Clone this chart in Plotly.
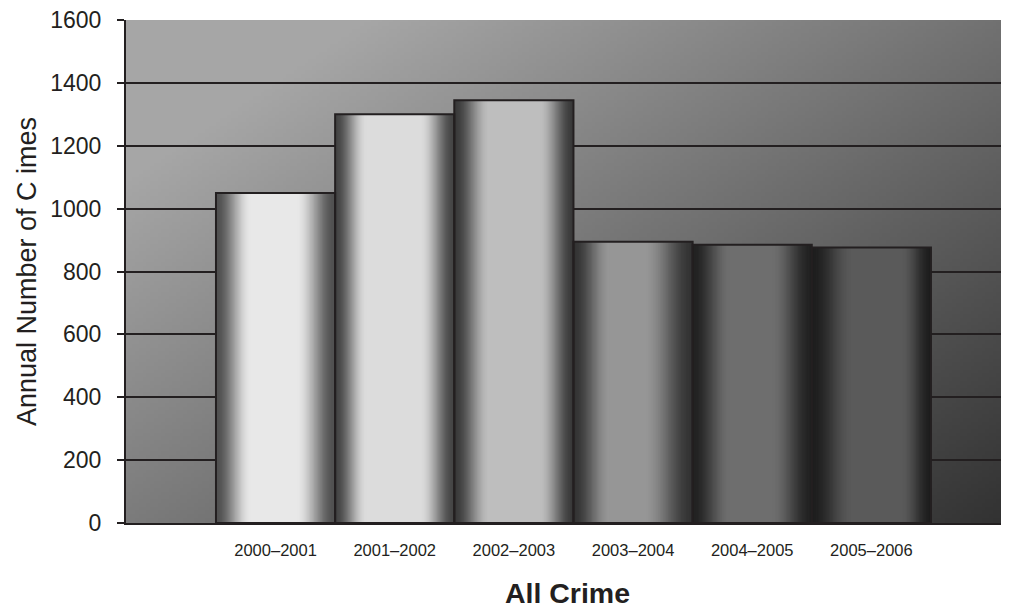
import base64
import struct
import zlib

import plotly.graph_objects as go

# ---------------- data ----------------
periods = ["2000–2001", "2001–2002", "2002–2003", "2003–2004", "2004–2005", "2005–2006"]
crimes = [1050, 1300, 1345, 895, 885, 876]
y_ticks = [0, 200, 400, 600, 800, 1000, 1200, 1400, 1600]

# ---------------- styles ----------------
edge_grey = [80, 68, 58, 52, 34, 30]
peak_grey = [232, 220, 190, 150, 110, 90]
plateau_start = [0.29, 0.26, 0.29, 0.30, 0.31, 0.34]
plateau_end = [0.68, 0.72, 0.72, 0.60, 0.67, 0.76]
INK = "#231f20"
FONT = "Liberation Sans, Arial, sans-serif"
N_LAYERS = 30


def grey(v):
    v = int(round(max(0, min(255, v))))
    return f"rgb({v},{v},{v})"


def smooth(s):
    return 3 * s * s - 2 * s * s * s


# ---------------- background gradient image (plot area) ----------------
def make_png(w, h):
    rows = []
    for j in range(h):
        v = j / (h - 1)
        row = bytearray([0])
        for i in range(w):
            u = i / (w - 1)
            s = 0.54 * u + 0.46 * v
            t = max(0.0, (s - 0.15) / 0.85)
            c = 166 - 116 * t
            row.append(int(max(0, min(255, c))))
        rows.append(bytes(row))
    raw = b"".join(rows)

    def chunk(tag, data):
        body = tag + data
        return struct.pack(">I", len(data)) + body + struct.pack(">I", zlib.crc32(body) & 0xFFFFFFFF)

    png = b"\x89PNG\r\n\x1a\n"
    png += chunk(b"IHDR", struct.pack(">IIBBBBB", w, h, 8, 0, 0, 0, 0))
    png += chunk(b"IDAT", zlib.compress(raw, 9))
    png += chunk(b"IEND", b"")
    return "data:image/png;base64," + base64.b64encode(png).decode()


bg_src = make_png(240, 136)

fig = go.Figure()

# cylinder-like shading: nested bar layers, from edge colour to highlight
for k in range(N_LAYERS):
    s = k / (N_LAYERS - 1)
    widths, offsets, colors = [], [], []
    for b in range(len(crimes)):
        a = plateau_start[b] * s
        e = 1 - (1 - plateau_end[b]) * s
        widths.append(e - a)
        offsets.append(-0.5 + a)
        colors.append(grey(edge_grey[b] + (peak_grey[b] - edge_grey[b]) * smooth(s)))
    fig.add_trace(go.Bar(
        x=periods, y=crimes, width=widths, offset=offsets,
        marker=dict(color=colors, line=dict(width=0)),
        hoverinfo="skip", showlegend=False,
    ))

# outline
fig.add_trace(go.Bar(
    x=periods, y=crimes, width=[1] * len(crimes), offset=[-0.5] * len(crimes),
    marker=dict(color="rgba(0,0,0,0)", line=dict(color=INK, width=2)),
    showlegend=False, hovertemplate="%{x}: %{y}<extra></extra>",
))

fig.update_layout(
    width=1001, height=601,
    margin=dict(l=118, r=0, t=12, b=86),
    barmode="overlay",
    paper_bgcolor="white",
    plot_bgcolor="rgba(0,0,0,0)",
    font=dict(family=FONT, color=INK),
    images=[dict(
        source=bg_src, xref="paper", yref="paper", x=0, y=1, sizex=1, sizey=1,
        xanchor="left", yanchor="top", sizing="stretch", layer="below",
    )],
    xaxis=dict(
        type="category", range=[-1.255, 6.155],
        showline=True, linecolor=INK, linewidth=2, mirror=False,
        showgrid=False, ticks="", tickfont=dict(size=16.5, color=INK, family=FONT),
        ticklabelstandoff=11,
        title=dict(text="<b>All Crime</b>", font=dict(size=28.5, color=INK, family=FONT), standoff=30),
        automargin=False,
    ),
    yaxis=dict(
        range=[0, 1600], tickvals=y_ticks,
        showline=True, linecolor=INK, linewidth=2,
        showgrid=True, gridcolor=INK, gridwidth=1.5, zeroline=False,
        ticks="outside", ticklen=7, tickwidth=1.5, tickcolor=INK,
        tickfont=dict(size=23, color=INK, family=FONT), ticklabelstandoff=11,
        ticklabeloverflow="allow",
        title=dict(text="Annual Number of C imes", font=dict(size=27, color=INK, family=FONT), standoff=6),
        automargin=False,
    ),
)

fig.write_html("out.html")
